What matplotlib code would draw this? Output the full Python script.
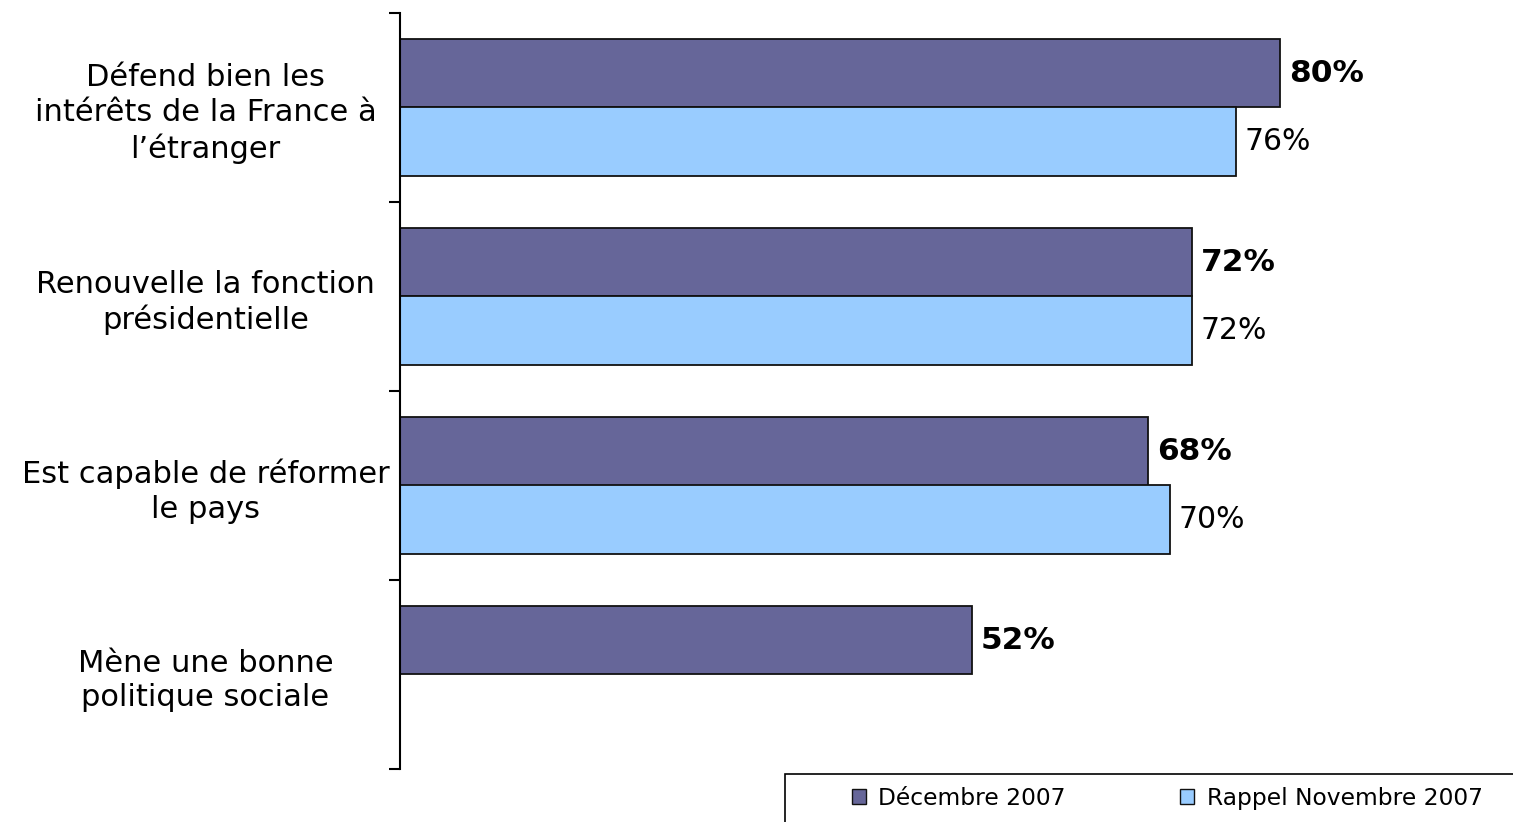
import matplotlib.pyplot as plt
from matplotlib.patches import Patch, Rectangle
import numpy as np

# Données
categories = [
    "Défend bien les\nintérêts de la France à\nl\u2019étranger",
    "Renouvelle la fonction\nprésidentielle",
    "Est capable de réformer\nle pays",
    "Mène une bonne\npolitique sociale",
]
decembre = [80, 72, 68, 52]
novembre = [76, 72, 70, None]
series_names = ["Décembre 2007", "Rappel Novembre 2007"]

col_dec = "#666699"
col_nov = "#99CCFF"

plt.rcParams['font.family'] = ['DejaVu Sans']

fig = plt.figure(figsize=(15.13, 8.22), dpi=100)
ax = fig.add_axes([400 / 1513, 1 - 769 / 822, 1100 / 1513, 756 / 822])

y = np.arange(len(categories))
h = 0.36

ax.barh(y - h / 2, decembre, height=h, color=col_dec, edgecolor="#111111", linewidth=1.3)
nov_y = [yy + h / 2 for yy, v in zip(y, novembre) if v is not None]
nov_v = [v for v in novembre if v is not None]
ax.barh(nov_y, nov_v, height=h, color=col_nov, edgecolor="#111111", linewidth=1.3)

for yy, v in zip(y, decembre):
    ax.text(v + 0.8, yy - h / 2, f"{v}%", va="center", ha="left", fontsize=22.5, fontweight="bold")
for yy, v in zip(nov_y, nov_v):
    ax.text(v + 0.8, yy, f"{v}%", va="center", ha="left", fontsize=21.5)

ax.set_xlim(0, 100)
ax.set_ylim(len(categories) - 0.5, -0.5)
ax.set_xticks([])
for s in ["top", "right", "bottom"]:
    ax.spines[s].set_visible(False)
ax.spines["left"].set_linewidth(1.5)

ax.set_yticks(np.arange(len(categories) + 1) - 0.5)
ax.set_yticklabels([])
ax.tick_params(axis="y", which="major", length=8, width=1.5, direction="out")

# libellés des catégories, centrés
ax.set_yticks(y, minor=True)
ax.set_yticklabels(categories, minor=True, fontsize=22, ha="center",
                   multialignment="center", linespacing=1.25)
ax.tick_params(axis="y", which="minor", length=0, pad=140)

# légende en bas à droite
fig.patches.append(Rectangle((785 / 1513, -0.02), 0.6, 0.02 + 1 - 774 / 822,
                             transform=fig.transFigure, fill=False,
                             edgecolor="black", linewidth=1.2))
handles = [Patch(facecolor=col_dec, edgecolor="#111111"), Patch(facecolor=col_nov, edgecolor="#111111")]
fig.legend(handles, series_names, loc="center left", ncol=2,
           bbox_to_anchor=(840 / 1513, 1 - 798 / 822),
           fontsize=16.8, frameon=False, borderpad=0,
           handlelength=0.6, handleheight=0.6, handletextpad=0.55, columnspacing=4.9)

fig.savefig("out.png", dpi=100)
